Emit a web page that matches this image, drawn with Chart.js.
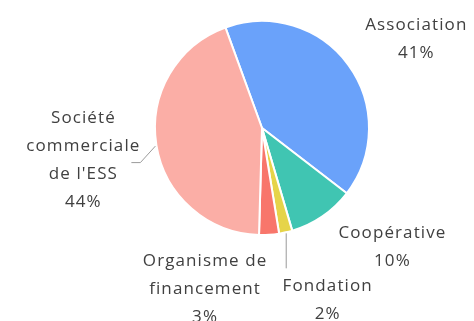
<!DOCTYPE html>
<html lang="fr">
<head>
<meta charset="utf-8">
<script src="https://cdn.jsdelivr.net/npm/chart.js@4"></script>
<style>
  html, body { margin: 0; padding: 0; background: #fff; }
  #cadre { width: 474px; height: 321px; position: relative; }
</style>
</head>
<body>
<div id="cadre"><canvas id="repartitionChart"></canvas></div>
<script>
// Données : répartition par statut juridique
const categories = ['Association', 'Coopérative', 'Fondation', 'Organisme de financement', "Société commerciale de l'ESS"];
const parts = [41, 10, 2, 3, 44];
const couleurs = ['#6aa2fa', '#40c5b2', '#e6d449', '#f8766b', '#fbaea6'];

// Texte des étiquettes découpé en lignes
const lignesEtiquettes = [
  ['Association'],
  ['Coopérative'],
  ['Fondation'],
  ['Organisme de', 'financement'],
  ['Société', 'commerciale', "de l'ESS"]
];

// Position du bloc de texte par rapport au bord de chaque part
const placement = [
  { dx: 68, dy: -26 },
  { dx: 70, dy: 31 },
  { dx: 42, dy: 68, trait: 'vertical' },
  { dx: -64, dy: 54 },
  { dx: -73, dy: 15, trait: 'coude' }
];

const police = '17px "Open Sans", sans-serif';
const interligne = 28;

// Étiquettes extérieures avec traits de rappel
const etiquettesExterieures = {
  id: 'etiquettesExterieures',
  afterDatasetsDraw(chart) {
    const ctx = chart.ctx;
    const arcs = chart.getDatasetMeta(0).data;
    ctx.save();
    arcs.forEach((arc, i) => {
      const { x, y, startAngle, endAngle, outerRadius } = arc.getProps(['x', 'y', 'startAngle', 'endAngle', 'outerRadius'], true);
      const milieu = (startAngle + endAngle) / 2;
      const bx = x + outerRadius * Math.cos(milieu);
      const by = y + outerRadius * Math.sin(milieu);
      const p = placement[i];

      ctx.strokeStyle = '#9a9a9a';
      ctx.lineWidth = 1;
      if (p.trait === 'vertical') {
        ctx.beginPath();
        ctx.moveTo(bx + 0.5, by + 1);
        ctx.lineTo(bx + 0.5, by + 36);
        ctx.stroke();
      } else if (p.trait === 'coude') {
        ctx.beginPath();
        ctx.moveTo(bx - 1, by + 1);
        ctx.lineTo(bx - 16, by + 17.5);
        ctx.lineTo(bx - 25, by + 17.5);
        ctx.stroke();
      }

      const lignes = lignesEtiquettes[i].concat([parts[i] + '%']);
      const cx = bx + p.dx;
      const cy = by + p.dy;
      ctx.font = police;
      ctx.fillStyle = '#404040';
      ctx.textAlign = 'center';
      ctx.textBaseline = 'middle';
      if ('letterSpacing' in ctx) ctx.letterSpacing = '1.1px';
      lignes.forEach((t, k) => {
        ctx.fillText(t, cx, cy + (k - (lignes.length - 1) / 2) * interligne);
      });
    });
    ctx.restore();
  }
};

new Chart(document.getElementById('repartitionChart'), {
  type: 'pie',
  data: {
    labels: categories,
    datasets: [{
      data: parts,
      backgroundColor: couleurs,
      borderColor: '#ffffff',
      borderWidth: 2
    }]
  },
  options: {
    responsive: true,
    maintainAspectRatio: false,
    animation: false,
    rotation: -20,
    layout: {
      padding: { top: 20, bottom: 85, left: 154, right: 104 }
    },
    plugins: {
      legend: { display: false },
      tooltip: { enabled: false }
    }
  },
  plugins: [etiquettesExterieures]
});
</script>
</body>
</html>
